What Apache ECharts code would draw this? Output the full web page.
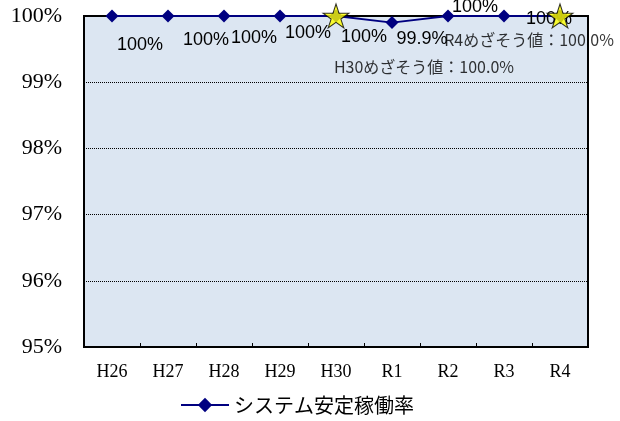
<!DOCTYPE html>
<html>
<head>
<meta charset="utf-8">
<script src="https://cdn.jsdelivr.net/npm/echarts@6/dist/echarts.min.js"></script>
<style>
html, body { margin: 0; padding: 0; background: #fff; }
#container { width: 620px; height: 421px; }
</style>
</head>
<body>
<div id="container"></div>
<script>
// 年度
var categories = ['H26', 'H27', 'H28', 'H29', 'H30', 'R1', 'R2', 'R3', 'R4'];
// システム安定稼働率 (%)
var rateValues = [100, 100, 100, 100, 100, 99.9, 100, 100, 100];
var rateLabels = ['100%', '100%', '100%', '100%', '100%', '99.9%', '100%', '100%', ''];
// めざそう値
var targetCats = ['H30', 'R4'];
var targetValues = [100, 100];
var targetLabels = ['H30めざそう値：100.0%', 'R4めざそう値：100.0%'];
var yTicks = [95, 96, 97, 98, 99, 100];

var dom = document.getElementById('container');
var myChart = echarts.init(dom);

// label offsets (px) relative to each point
var rateOffsets = [[28, 29], [38, 24], [30, 22], [28, 17], [28, 21], [30, 16], [27, -9], [45, 3], [0, 0]];
var targetOffsets = [[88, 51], [-31, 24]];

var star = 'path://M50,0 L61,35 L98,35 L68,57 L79,91 L50,70 L21,91 L32,57 L2,35 L39,35 Z';

var rateData = rateValues.map(function(v, i) {
	return {
		value: v,
		label: {
			show: rateLabels[i] !== '',
			formatter: rateLabels[i],
			position: 'inside',
			offset: rateOffsets[i],
			color: '#000'
		}
	};
});

var targetData = targetValues.map(function(v, i) {
	return {
		value: [targetCats[i], v],
		label: {
			show: true,
			formatter: targetLabels[i],
			position: 'inside',
			offset: targetOffsets[i],
			color: '#000',
			fontFamily: 'Noto Sans CJK JP',
			fontSize: 16
		}
	};
});

var option = {
	animation: false,
	backgroundColor: '#fff',
	grid: {
		left: 84,
		right: 32,
		top: 16,
		bottom: 74,
		show: true,
		backgroundColor: '#dce6f2',
		borderColor: '#000',
		borderWidth: 2
	},
	legend: {
		data: ['システム安定稼働率'],
		left: 175,
		top: 390,
		itemWidth: 48,
		itemHeight: 18,
		itemGap: 5,
		textStyle: {
			fontFamily: 'Noto Sans CJK JP',
			fontSize: 20,
			color: '#000'
		}
	},
	xAxis: {
		type: 'category',
		data: categories,
		boundaryGap: true,
		axisLine: { lineStyle: { color: '#000', width: 2 } },
		axisTick: { show: true, inside: true, length: 4, lineStyle: { color: '#000' } },
		axisLabel: {
			margin: 16,
			color: '#000',
			fontFamily: 'Liberation Serif',
			fontSize: 18
		}
	},
	yAxis: {
		type: 'value',
		min: yTicks[0],
		max: yTicks[yTicks.length - 1],
		interval: 1,
		axisLine: { show: true, lineStyle: { color: '#000', width: 2 } },
		axisTick: { show: false },
		axisLabel: {
			margin: 22,
			color: '#000',
			fontFamily: 'Liberation Serif',
			fontSize: 22,
			formatter: '{value}%'
		},
		splitLine: { show: true, lineStyle: { color: '#000', type: [1, 1], width: 1 } }
	},
	series: [{
		name: 'システム安定稼働率',
		type: 'line',
		data: rateData,
		symbol: 'diamond',
		symbolSize: 13,
		itemStyle: { color: '#000080' },
		lineStyle: { color: '#000080', width: 2 },
		label: {
			color: '#000',
			fontFamily: 'Liberation Sans',
			fontSize: 18
		},
		z: 3
	}, {
		name: 'めざそう値',
		type: 'scatter',
		data: targetData,
		symbol: star,
		symbolSize: [26, 24],
		itemStyle: { color: '#ffff00', borderColor: '#000', borderWidth: 1 },
		z: 4
	}]
};

if (option && typeof option === 'object') {
	myChart.setOption(option, true);
}
</script>
</body>
</html>
